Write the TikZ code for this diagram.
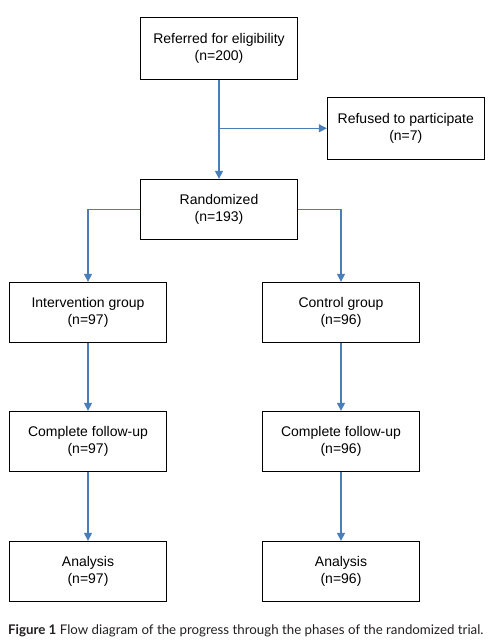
\documentclass[tikz,border=0pt]{standalone}
\usepackage{fontspec}
\setmainfont{Liberation Sans}
\newfontfamily\capfont{Lato}
\usetikzlibrary{arrows.meta}
\definecolor{linkblue}{HTML}{4A7EBB}
\definecolor{capgray}{HTML}{231F20}
\tikzset{
  stepbox/.style={draw=black, line width=0.9bp, minimum width=157bp, minimum height=60bp,
    align=center, font=\fontsize{14bp}{17.5bp}\selectfont, inner sep=0pt},
  link/.style={draw=linkblue, line width=1.2bp},
  arr/.style={link, -{Triangle[length=8bp,width=8bp]}}
}
\begin{document}
\begin{tikzpicture}[x=1bp,y=-1bp]
\useasboundingbox (0,0) rectangle (495,642);
\node[stepbox, minimum height=62bp] (ref) at (219,48.3) {Referred for eligibility\\(n=200)};
\node[stepbox, minimum height=62bp] (refused) at (405.8,128.3) {Refused to participate\\(n=7)};
\node[stepbox] (rand) at (219,209.3) {Randomized\\(n=193)};
\node[stepbox] (int) at (88,312.3) {Intervention group\\(n=97)};
\node[stepbox] (con) at (341,312.3) {Control group\\(n=96)};
\node[stepbox] (fu1) at (88,441.3) {Complete follow-up\\(n=97)};
\node[stepbox] (fu2) at (341,441.3) {Complete follow-up\\(n=96)};
\node[stepbox] (an1) at (88,571.3) {Analysis\\(n=97)};
\node[stepbox] (an2) at (341,571.3) {Analysis\\(n=96)};
\coordinate (br) at (ref.south |- refused.west);
\draw[arr] (ref.south) -- (rand.north);
\draw[arr] (br) -- (refused.west);
\draw[arr] (rand.west) -| (int.north);
\draw[arr] (rand.east) -| (con.north);
\draw[arr] (int.south) -- (fu1.north);
\draw[arr] (con.south) -- (fu2.north);
\draw[arr] (fu1.south) -- (an1.north);
\draw[arr] (fu2.south) -- (an2.north);
\node[anchor=west, inner sep=0pt, text=capgray, font=\capfont\fontsize{13.3bp}{16bp}\selectfont] (cap) at (8,630.5)
  {\textbf{Figure 1} Flow diagram of the progress through the phases of the randomized trial.};
\end{tikzpicture}
\end{document}
